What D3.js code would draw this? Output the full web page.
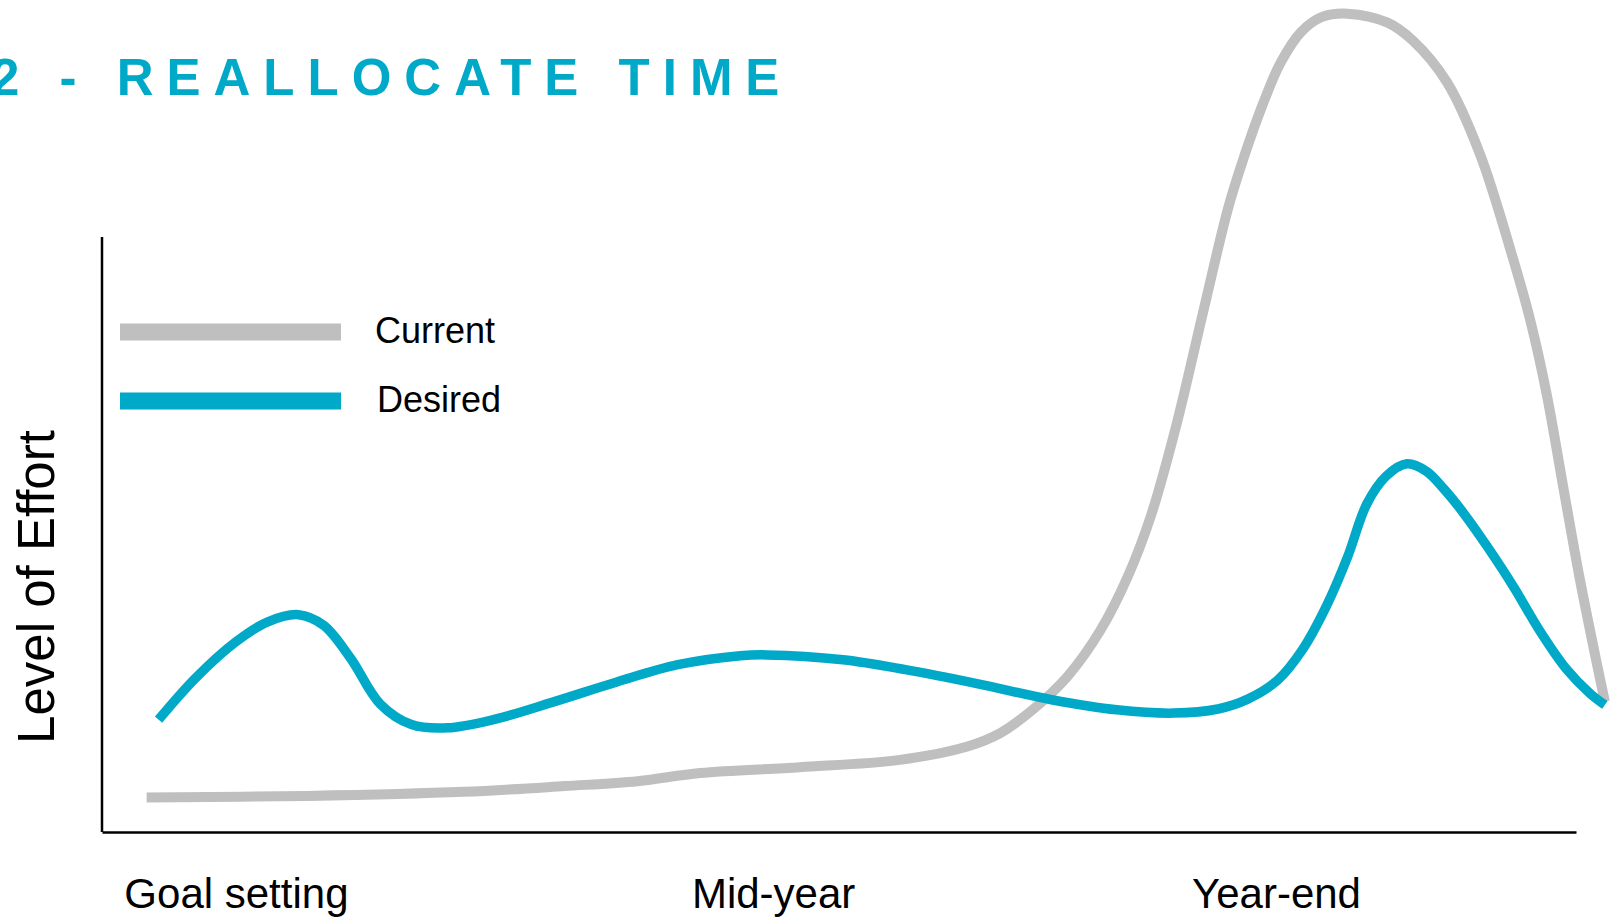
<!DOCTYPE html>
<html>
<head>
<meta charset="utf-8">
<script src="https://cdn.jsdelivr.net/npm/d3@7"></script>
<style>
  body { margin: 0; background: #fff; }
  svg { display: block; font-family: "Liberation Sans", Arial, sans-serif; }
</style>
</head>
<body>
<div id="chart"></div>
<script>
// x = time through the year (0-100), y = level of effort (0-100)
var currentEffort = [
	[3.0, 4.2], [13.8, 4.4], [24.3, 4.9], [31.1, 5.6], [36.0, 6.2], [40.2, 7.2],
	[46.9, 7.9], [53.6, 8.8], [58.1, 10.4], [60.4, 12.1], [62.6, 15.0], [64.9, 19.0],
	[67.1, 24.6], [68.9, 31.0], [70.5, 38.6], [72.2, 49.6], [74.0, 63.4], [75.7, 76.2],
	[76.8, 82.6], [78.0, 88.7], [79.2, 93.8], [80.6, 97.6], [82.0, 99.4], [83.7, 99.8],
	[86.4, 98.7], [88.1, 96.5], [90.4, 91.4], [92.6, 82.7], [94.8, 70.1], [96.0, 62.3],
	[97.1, 53.3], [98.2, 42.1], [99.3, 31.0], [100.5, 20.2], [101.0, 15.9]
];

var desiredEffort = [
	[3.8, 13.7], [6.3, 18.8], [9.0, 23.2], [11.1, 25.6], [13.2, 26.5], [14.9, 25.2],
	[16.7, 21.2], [18.7, 15.6], [20.8, 13.1], [23.2, 12.7], [26.3, 13.7], [30.4, 15.9],
	[34.6, 18.3], [38.7, 20.4], [42.9, 21.5], [44.7, 21.6], [49.8, 21.0], [54.0, 19.8],
	[58.8, 18.1], [63.9, 16.1], [68.2, 14.9], [72.0, 14.5], [75.0, 15.0], [77.0, 16.2],
	[79.0, 18.5], [80.7, 22.3], [82.3, 27.6], [83.7, 33.5], [85.0, 40.0], [86.3, 43.4],
	[87.7, 44.9], [89.0, 44.0], [90.2, 41.8], [91.5, 38.9], [93.1, 34.8], [94.9, 29.8],
	[96.6, 24.6], [98.4, 19.9], [100.0, 16.9], [101.0, 15.5]
];

var phaseLabels = ["Goal setting", "Mid-year", "Year-end"];
var phasePositions = [9.0, 45.1, 78.9];

var seriesNames = ["Current", "Desired"];
var seriesColors = ["#bfbfbf", "#00a9c7"];
var seriesWidths = [10, 9.5];

var width = 1612, height = 920;
var axisLeft = 102, axisRight = 1576, axisBottom = 832, axisTop = 237;

var svg = d3.select("#chart").append("svg")
	.attr("width", width)
	.attr("height", height);

var x = d3.scaleLinear().domain([0, 99.06]).range([axisLeft, axisRight]);
var y = d3.scaleLinear().domain([0, 100]).range([axisBottom, 12]);

// title (the leading "2" runs off the left edge, as in the original slide)
svg.append("text")
	.attr("x", -9)
	.attr("y", 95)
	.attr("fill", "#00a9c7")
	.style("font-size", "51px")
	.style("font-weight", "bold")
	.style("letter-spacing", "13px")
	.text("2 - REALLOCATE TIME");

// y axis line + label
svg.append("line")
	.attr("x1", axisLeft).attr("x2", axisLeft)
	.attr("y1", axisTop).attr("y2", axisBottom)
	.attr("stroke", "#000")
	.attr("stroke-width", 2.5);

svg.append("text")
	.attr("transform", "translate(54," + 587 + ") rotate(-90)")
	.attr("text-anchor", "middle")
	.attr("fill", "#000")
	.style("font-size", "51px")
	.text("Level of Effort");

// x axis with phase labels
var xAxis = d3.axisBottom(x)
	.tickValues(phasePositions)
	.tickFormat(function(d, i){ return phaseLabels[i]; })
	.tickSize(0)
	.tickSizeOuter(0);

var gx = svg.append("g")
	.attr("transform", "translate(0," + axisBottom + ")")
	.call(xAxis);

gx.select(".domain")
	.attr("stroke", "#000")
	.attr("stroke-width", 2.5);

gx.selectAll(".tick text")
	.attr("y", 76)
	.attr("dy", 0)
	.attr("fill", "#000")
	.style("font-size", "42px")
	.style("font-family", "'Liberation Sans', Arial, sans-serif");

// curves
var line = d3.line()
	.x(function(d){ return x(d[0]); })
	.y(function(d){ return y(d[1]); })
	.curve(d3.curveCatmullRom.alpha(0.5));

[currentEffort, desiredEffort].forEach(function(series, i){
	svg.append("path")
		.datum(series)
		.attr("d", line)
		.attr("fill", "none")
		.attr("stroke", seriesColors[i])
		.attr("stroke-width", seriesWidths[i])
		.attr("stroke-linejoin", "round");
});

// legend
var legend = svg.append("g");
seriesNames.forEach(function(name, i){
	var cy = 332 + i * 69;
	legend.append("rect")
		.attr("x", 120)
		.attr("y", cy - 8.5)
		.attr("width", 221)
		.attr("height", 17)
		.attr("fill", seriesColors[i]);
	legend.append("text")
		.attr("x", 375 + i * 2)
		.attr("y", cy + 11)
		.attr("fill", "#000")
		.style("font-size", "36px")
		.text(name);
});
</script>
</body>
</html>
